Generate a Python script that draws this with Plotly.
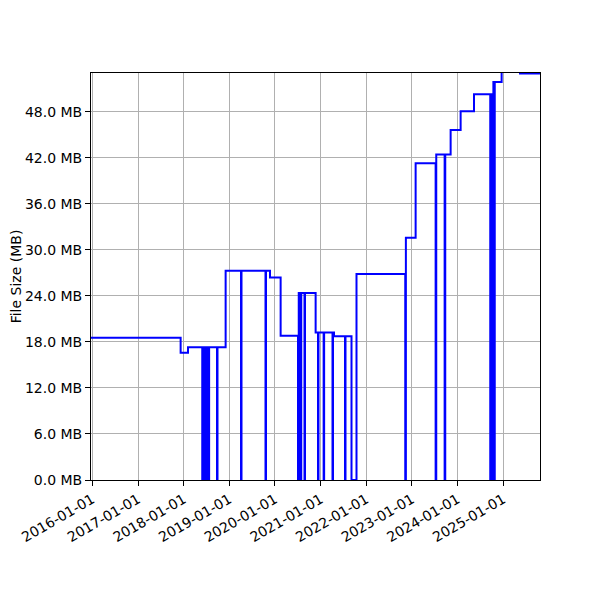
import plotly.graph_objects as go

# File size history (step plot); zeros are short outages
dates = [
    "2015-12-22", "2017-12-08", "2018-02-05",
    "2018-05-30", "2018-06-02", "2018-06-08", "2018-06-11", "2018-06-17", "2018-06-20",
    "2018-06-26", "2018-06-29", "2018-07-05", "2018-07-08", "2018-07-14", "2018-07-17",
    "2018-07-21", "2018-07-24",
    "2018-09-25", "2018-09-29",
    "2018-12-03",
    "2019-04-05", "2019-04-09",
    "2019-10-18", "2019-10-22",
    "2019-11-23", "2020-02-16",
    "2020-07-04", "2020-07-10", "2020-07-24", "2020-07-30", "2020-08-25", "2020-08-29",
    "2020-11-22",
    "2020-12-11", "2020-12-15",
    "2021-01-25", "2021-01-29",
    "2021-04-06", "2021-04-10", "2021-04-18",
    "2021-07-15", "2021-07-19",
    "2021-09-05", "2021-10-15",
    "2022-11-09", "2022-11-14",
    "2023-01-31",
    "2023-07-10", "2023-07-15",
    "2023-09-20", "2023-09-25",
    "2023-11-07", "2024-01-26", "2024-05-12",
    "2024-09-19", "2024-09-22", "2024-09-26", "2024-09-29", "2024-10-03", "2024-10-06",
    "2024-10-10", "2024-10-14", "2024-10-21", "2024-10-25",
    "2024-12-19", "2025-05-15", "2025-10-22",
]
sizes_mb = [
    18.55, 16.6, 17.3,
    0, 17.3, 0, 17.3, 0, 17.3,
    0, 17.3, 0, 17.3, 0, 17.3,
    0, 17.3,
    0, 17.3,
    27.3,
    0, 27.3,
    0, 27.3,
    26.4, 18.8,
    0, 24.4, 0, 24.4, 0, 24.4,
    19.25,
    0, 19.25,
    0, 19.25,
    0, 19.25, 18.75,
    0, 18.75,
    0, 26.85,
    0, 31.6,
    41.3,
    0, 42.45,
    0, 42.45,
    45.65, 48.1, 50.3,
    0, 50.3, 0, 50.3, 0, 50.3,
    0, 51.9, 0, 51.9,
    53.6, 53.0, 53.0,
]

x_tick_labels = ["2016-01-01", "2017-01-01", "2018-01-01", "2019-01-01", "2020-01-01",
                 "2021-01-01", "2022-01-01", "2023-01-01", "2024-01-01", "2025-01-01"]
y_tick_values = [0, 6, 12, 18, 24, 30, 36, 42, 48]
y_tick_labels = [f"{v:.1f} MB" for v in y_tick_values]

fig = go.Figure()
fig.add_trace(go.Scatter(
    x=dates, y=sizes_mb, mode="lines", line_shape="hv",
    line=dict(color="#0000ff", width=2), showlegend=False,
))

axis_common = dict(
    showline=True, linecolor="black", linewidth=1, mirror=True,
    ticks="outside", ticklen=5, tickcolor="black", tickwidth=1,
    showgrid=True, gridcolor="#b0b0b0", gridwidth=1, zeroline=False,
    tickfont=dict(family="DejaVu Sans", size=14, color="black"),
    automargin=False,
)

fig.update_layout(
    width=600, height=600,
    margin=dict(l=83, r=68, t=65, b=128),
    paper_bgcolor="white", plot_bgcolor="white",
    font=dict(family="DejaVu Sans", size=14, color="black"),
    xaxis=dict(
        type="date", range=["2015-12-22", "2025-10-22"],
        tickvals=x_tick_labels, ticktext=x_tick_labels, tickangle=-30,
        **axis_common,
    ),
    yaxis=dict(
        range=[0, 53.08], tickvals=y_tick_values, ticktext=y_tick_labels,
        title=dict(text="File Size (MB)", font=dict(size=14), standoff=8),
        **axis_common,
    ),
)

fig.write_html("out.html")
